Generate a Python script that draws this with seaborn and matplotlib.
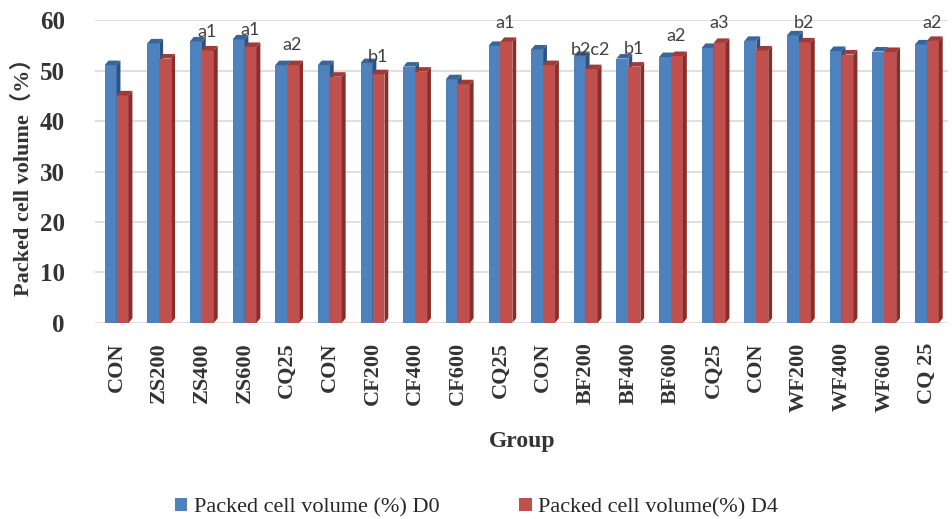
# plot.py
# Packed cell volume per group, D0 vs D4 (Excel-style 3D columns)

import seaborn as sns

import matplotlib.pyplot as plt
from matplotlib.patches import Polygon, Patch
import pandas as pd

# data
groups = ["CON", "ZS200", "ZS400", "ZS600", "CQ25", "CON", "CF200", "CF400", "CF600", "CQ25",
          "CON", "BF200", "BF400", "BF600", "CQ25", "CON", "WF200", "WF400", "WF600", "CQ 25"]
pcv_d0 = [51.1, 55.4, 55.8, 56.2, 51.1, 51.1, 51.5, 50.8, 48.3, 54.9,
          54.2, 52.9, 52.4, 52.7, 54.5, 55.9, 57.0, 53.9, 53.8, 55.2]
pcv_d4 = [45.1, 52.4, 54.0, 54.7, 51.1, 48.8, 49.3, 49.8, 47.3, 55.7,
          51.1, 50.3, 50.8, 52.9, 55.5, 54.0, 55.6, 53.2, 53.7, 55.9]
series_names = ["Packed cell volume (%) D0", "Packed cell volume(%) D4"]

# significance letters: group index, text, height (data units)
ann_idx = [2, 3, 4, 6, 9, 11, 12, 13, 14, 16, 19]
ann_text = ["a1", "a1", "a2", "b1", "a1", "b2c2", "b1", "a2", "a3", "b2", "a2"]
ann_y = [57.6, 58.0, 55.0, 52.7, 59.4, 54.1, 54.3, 56.8, 59.4, 59.4, 59.4]

colors = ["#4F81BD", "#C0504D"]
side_colors = ["#2C5283", "#872D2A"]
top_colors = ["#3A6598", "#9E3B38"]


def plot_pcv():
    df = pd.DataFrame({
        "pos": list(range(len(groups))) * 2,
        "value": pcv_d0 + pcv_d4,
        "series": [series_names[0]] * len(groups) + [series_names[1]] * len(groups),
    })

    sns.set_style("white")
    fig, ax = plt.subplots(figsize=(9.53, 5.19), dpi=100)
    fig.subplots_adjust(left=0.100, right=0.995, top=0.961, bottom=0.378)

    sns.barplot(data=df, x="pos", y="value", hue="series", hue_order=series_names,
                palette=colors, saturation=1, width=0.56, gap=0.0, legend=False, ax=ax)

    # fake 3D: right side face and top face for every bar
    dx, dy = 0.09, 0.9
    n = len(groups)
    for i, p in enumerate(list(ax.patches)):
        s = 0 if i < n else 1
        p.set_zorder(2 + 2 * s)
        p.set_edgecolor("none")
        x0, w, h = p.get_x(), p.get_width(), p.get_height()
        side = Polygon([(x0 + w, 0), (x0 + w + dx, dy), (x0 + w + dx, h + dy), (x0 + w, h)],
                       closed=True, facecolor=side_colors[s], edgecolor="none", zorder=2.5 + 2 * s)
        top = Polygon([(x0, h), (x0 + dx, h + dy), (x0 + w + dx, h + dy), (x0 + w, h)],
                      closed=True, facecolor=top_colors[s], edgecolor="none", zorder=2.5 + 2 * s)
        ax.add_patch(side)
        ax.add_patch(top)

    for i, t, y in zip(ann_idx, ann_text, ann_y):
        ax.text(i + 0.12, y, t, ha="center", va="center", fontsize=13,
                family="Lato", color="#404040", zorder=10)

    ax.set_ylim(0, 60)
    ax.set_xlim(-0.5, n - 0.5)
    ax.set_yticks(range(0, 61, 10))
    ax.yaxis.grid(True, color="#D9D9D9", linewidth=1.2)
    ax.set_axisbelow(True)
    for sp in ax.spines.values():
        sp.set_visible(False)
    ax.tick_params(axis="y", length=0, pad=22)
    ax.tick_params(axis="x", length=0, pad=14)

    ax.set_xticks(range(n))
    ax.set_xticklabels(groups, rotation=90, fontsize=16, fontweight="bold",
                       family="Liberation Serif", color="#333333")
    for lab in ax.get_yticklabels():
        lab.set_fontsize(18)
        lab.set_fontweight("bold")
        lab.set_family("Liberation Serif")
        lab.set_color("#333333")

    ax.set_xlabel("Group", fontsize=17, fontweight="bold", family="Liberation Serif",
                  color="#333333", labelpad=14)
    ax.set_ylabel("Packed cell volume（%）", fontsize=16, fontweight="bold",
                  family=["Liberation Serif", "Noto Sans CJK SC"], color="#333333", labelpad=4)

    handles = [Patch(facecolor=c, edgecolor="none") for c in colors]
    fig.legend(handles, series_names, loc="center", bbox_to_anchor=(0.5, 0.022), ncol=2,
               frameon=False, handlelength=0.55, handleheight=0.55, handletextpad=0.3,
               columnspacing=3.6, prop={"family": "Liberation Serif", "size": 16})

    fig.savefig("out.png", dpi=100)


def run_main():
    plot_pcv()


if __name__ == "__main__":
    run_main()
